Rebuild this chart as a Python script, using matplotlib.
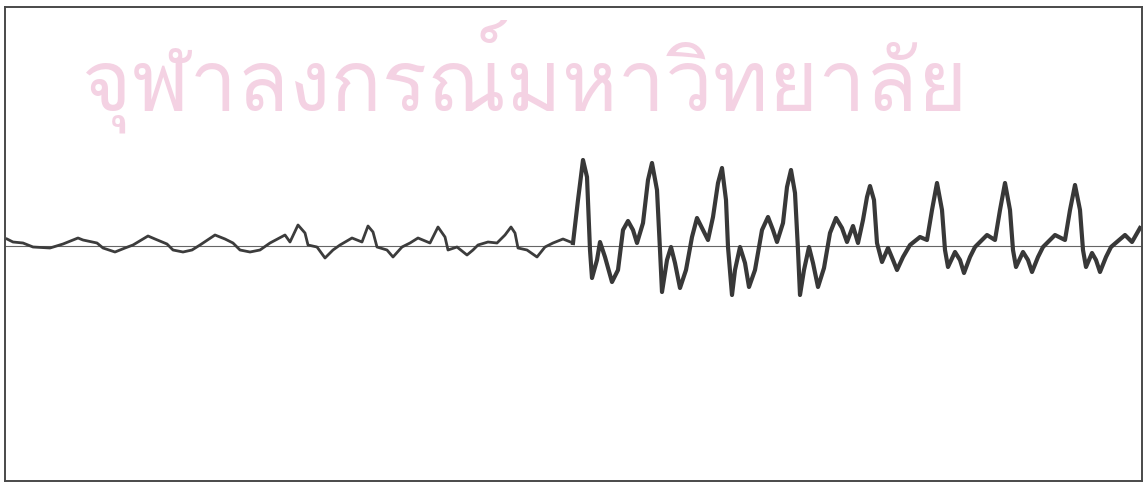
import numpy as np
import matplotlib
matplotlib.use('Agg')
import matplotlib.pyplot as plt
from matplotlib import font_manager
from matplotlib.ft2font import FT2Font

# waveform: x = pixel column, value = height above the zero line
x_pts = [7, 13, 23, 33, 50, 63, 78, 83, 97, 103, 115, 125, 133, 148, 155, 167,
         173, 183, 192, 200, 215, 225, 233, 240, 250, 260, 270, 285, 290, 298,
         305, 308, 317, 325, 333, 340, 352, 362, 368, 373, 377, 387, 393, 402,
         410, 418, 430, 438, 445, 448, 457, 467, 473, 478, 488, 497, 505, 511,
         515, 518, 527, 537, 545, 553, 563, 573,
         578, 583, 587, 590, 592, 597, 600, 605, 612, 618, 623, 628, 633, 637,
         643, 648, 652, 657, 660, 662, 667, 671, 675, 680, 686, 692, 697, 703,
         708, 713, 718, 722, 726, 728, 732, 735, 740, 745, 749, 755, 762, 768,
         773, 777, 783, 787, 791, 795, 798, 800, 804, 809, 813, 818, 824, 830,
         836, 842, 847, 853, 858, 863, 867, 870, 874, 877, 882, 888, 893, 897,
         903, 910, 920, 927, 932, 937, 942, 945, 948, 955, 960, 964, 970, 975,
         987, 995, 1000, 1005, 1010, 1013, 1016, 1023, 1028, 1032, 1038, 1043,
         1055, 1065, 1070, 1075, 1080, 1083, 1086, 1092, 1096, 1100, 1106, 1111,
         1125, 1132, 1140]
y_pts = [7, 4, 3, -1, -2, 2, 8, 6, 3, -2, -6, -2, 1, 10, 7, 2,
         -4, -6, -4, 1, 11, 7, 3, -4, -6, -4, 3, 11, 4, 21,
         13, 1, -1, -12, -4, 1, 8, 4, 20, 14, -1, -4, -11, -1,
         3, 8, 3, 19, 9, -4, -1, -9, -4, 1, 4, 3, 11, 19,
         13, -2, -4, -11, -1, 3, 7, 3,
         46, 86, 69, -4, -32, -14, 4, -11, -36, -24, 16, 25, 16, 3,
         23, 66, 83, 56, -4, -46, -14, -1, -17, -42, -24, 9, 28, 16,
         6, 29, 63, 78, 46, -1, -49, -24, -1, -17, -41, -24, 16, 29,
         16, 4, 23, 59, 76, 53, -4, -49, -24, -1, -17, -41, -22, 13,
         28, 18, 4, 20, 3, 26, 49, 60, 46, 3, -16, -2, -14, -24,
         -11, 1, 9, 6, 36, 63, 36, -4, -21, -6, -14, -27, -11, -1,
         11, 6, 36, 63, 36, -4, -21, -6, -14, -26, -11, -1,
         11, 6, 36, 61, 36, -4, -21, -7, -14, -26, -11, -1,
         11, 4, 18]
split_x = 573  # burst starts here, trace drawn heavier after it

watermark = "จุฬาลงกรณ์มหาวิทยาลัย"


def thai_font():
    for f in font_manager.fontManager.ttflist:
        try:
            if FT2Font(f.fname).get_char_index(0x0E08):
                return f.name
        except Exception:
            pass
    return None


x = np.array(x_pts)
y = np.array(y_pts)

fig = plt.figure(figsize=(11.44, 4.84), dpi=100)
fig.patch.set_facecolor('white')
ax = fig.add_axes([5 / 1144, 3 / 484, 1137 / 1144, 474 / 484])
ax.set_xlim(5, 1142)
ax.set_ylim(-235, 239)

fam = thai_font()
if fam:
    ax.text(525, 170, watermark, ha='center', va='center', fontsize=61,
            color='#f4d2e3', family=[fam, 'DejaVu Sans'], zorder=0)

ax.axhline(0, color='#666666', lw=0.8, zorder=1)

m = x <= split_x
ax.plot(x[m], y[m], color='#3c3c3c', lw=2.0, solid_joinstyle='round', zorder=2)
ax.plot(x[x >= split_x], y[x >= split_x], color='#383838', lw=3.0,
        solid_joinstyle='round', zorder=2)

ax.set_xticks([])
ax.set_yticks([])
for s in ax.spines.values():
    s.set_color('#4a4a4a')
    s.set_linewidth(1.4)

fig.savefig('out.png', dpi=100, facecolor='white')
